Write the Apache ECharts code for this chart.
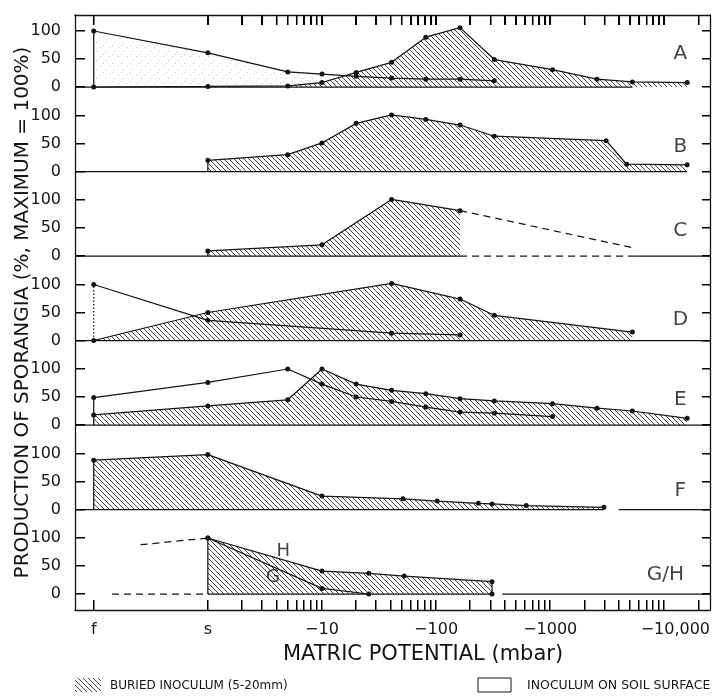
<!DOCTYPE html>
<html>
<head>
<meta charset="utf-8">
<script src="https://cdn.jsdelivr.net/npm/echarts@6/dist/echarts.min.js"></script>
<style>
  html, body { margin: 0; padding: 0; background: #fff; }
  #chart { width: 722px; height: 697px; }
</style>
</head>
<body>
<div id="chart"></div>
<script>
// x = log10 of suction (mbar); f (flooded) drawn at -1, s (saturated) at 0
const XMIN = -1.164, XMAX = 4.40;
const xTickLabels = ['f', 's', '\u221210', '\u2212100', '\u22121000', '\u221210,000'];
const yTickValues = [0, 50, 100];
const panelNames = ['A', 'B', 'C', 'D', 'E', 'F', 'G/H'];

// A
const aBuriedX = [-1, 0, 0.70, 1.00, 1.30, 1.61, 1.91, 2.21, 2.51, 3.02, 3.41, 3.72, 4.20];
const aBuriedY = [0, 1, 2, 8, 26, 44, 89, 106, 49, 31, 14, 9, 8];
const aSurfX = [-1, 0, 0.70, 1.00, 1.30, 1.61, 1.91, 2.21, 2.51];
const aSurfY = [100, 61, 27, 23, 19, 16, 14, 14, 11];
// B
const bBuriedX = [0, 0.70, 1.00, 1.30, 1.61, 1.91, 2.21, 2.51, 3.49, 3.67, 4.20];
const bBuriedY = [20, 30, 51, 86, 101, 93, 83, 63, 55, 13, 12];
// C
const cBuriedX = [0, 1.00, 1.61, 2.21];
const cBuriedY = [9, 20, 101, 81];
const cTrendX = [2.21, 3.72];
const cTrendY = [81, 15];
// D
const dBuriedX = [-1, 0, 1.61, 2.21, 2.51, 3.72];
const dBuriedY = [0, 50, 102, 74, 45, 15];
const dSurfX = [-1, 0, 1.61, 2.21];
const dSurfY = [100, 36, 13, 10];
// E
const eBuriedX = [-1, 0, 0.70, 1.00, 1.30, 1.61, 1.91, 2.21, 2.51, 3.02, 3.41, 3.72, 4.20];
const eBuriedY = [18, 34, 45, 100, 73, 62, 56, 47, 43, 38, 30, 25, 12];
const eSurfX = [-1, 0, 0.70, 1.00, 1.30, 1.61, 1.91, 2.21, 2.51, 3.02];
const eSurfY = [49, 76, 100, 73, 50, 42, 32, 23, 21, 15];
// F
const fBuriedX = [-1, 0, 1.00, 1.71, 2.01, 2.37, 2.49, 2.79, 3.47];
const fBuriedY = [88, 98, 24, 19, 15, 11, 10, 7, 4];
// G/H
const hX = [0, 1.00, 1.41, 1.72, 2.49];
const hY = [100, 41, 37, 32, 22];
const gX = [0, 1.00, 1.41];
const gY = [100, 10, 0];
const ghTrendX = [-0.59, 0];
const ghTrendY = [88, 100];

// zero lines of each panel: [from, to, style]
const zeroLines = [
  [[XMIN, 3.72, 'solid']],
  [[XMIN, 4.20, 'solid']],
  [[XMIN, 2.21, 'solid'], [2.21, 3.72, 'dashed'], [3.72, XMAX, 'solid']],
  [[XMIN, XMAX, 'solid']],
  [[XMIN, XMAX, 'solid']],
  [[XMIN, 3.47, 'solid'], [3.60, XMAX, 'solid']],
  [[-0.84, 0, 'dashed'], [0, 2.49, 'solid'], [2.58, XMAX, 'solid']]
];
// where the panel letters sit [x, value]
const letterPos = [[4.14, 60], [4.14, 45], [4.14, 45], [4.14, 37], [4.14, 45], [4.14, 34], [4.01, 34]];

const INK = '#141414';
const FONT = 'DejaVu Sans';
const W = 722, HT = 697;
const LEFT = 75, RIGHT = 12, TOP = 15, BOTTOM = 87;
const ZERO0 = 87, PITCH = 84.5, H100 = 56;
const PX0 = 2; // first panel x axis index

function pattern(size, draw) {
  const c = document.createElement('canvas');
  c.width = c.height = size;
  draw(c.getContext('2d'), size);
  return c;
}
const hatch = pattern(5, (g, n) => {
  g.strokeStyle = INK; g.lineWidth = 0.8; g.beginPath();
  for (let k = -1; k <= 1; k++) { g.moveTo(k * n, 0); g.lineTo(k * n + n, n); }
  g.stroke();
});
const stipple = pattern(9, (g) => {
  g.fillStyle = '#c8c8c8';
  g.fillRect(1, 2, 1, 1); g.fillRect(6, 6, 1, 1); g.fillRect(4, 0, 1, 1);
});

function curve(p, xs, ys, opt = {}) {
  const data = xs.map((x, i) => [x, ys[i]]);
  if (opt.edgeFrom != null) data.unshift({ value: [xs[0], opt.edgeFrom], symbol: 'none' });
  if (opt.closeRight) data.push([xs[xs.length - 1], 0]);
  return {
    type: 'line', xAxisIndex: PX0 + p, yAxisIndex: 2 + 2 * p, data, clip: false,
    symbol: opt.noSymbol ? 'none' : 'circle', symbolSize: 5,
    itemStyle: { color: INK },
    lineStyle: { color: INK, width: 1.25, type: opt.dashed ? [7, 5] : (opt.dotted ? [1.5, 2] : 'solid') },
    areaStyle: opt.fill ? { color: { image: opt.fill, repeat: 'repeat' }, opacity: 1, origin: 'start' } : undefined,
    z: opt.fill ? 2 : 3, silent: true
  };
}
function label(p, x, v, text, size) {
  return {
    type: 'scatter', xAxisIndex: PX0 + p, yAxisIndex: 2 + 2 * p, symbolSize: 0.1, silent: true,
    data: [[x, v]],
    label: { show: true, position: 'inside', formatter: text, color: INK, fontFamily: FONT, fontSize: size || 20 }
  };
}

// tick positions: f, s, then log ticks for each decade
const xTicks = [-1, 0];
for (let d = 0; d <= 4; d++) {
  for (let k = 2; k <= 10; k++) {
    const v = d + Math.log10(k);
    if (v < XMAX) xTicks.push(+v.toFixed(4));
  }
}
const xMajor = [-1, 0, 1, 2, 3, 4];

const series = [];
zeroLines.forEach((segs, p) => {
  segs.forEach(([a, b, st]) => {
    series.push(curve(p, [a, b], [0, 0], { noSymbol: true, dashed: st === 'dashed' }));
  });
  series.push(label(p, letterPos[p][0], letterPos[p][1], panelNames[p]));
});

series.push(curve(0, aSurfX, aSurfY, { edgeFrom: 0, fill: stipple }));
series.push(curve(0, aBuriedX, aBuriedY, { fill: hatch }));
series.push(curve(1, bBuriedX, bBuriedY, { edgeFrom: 0, fill: hatch }));
series.push(curve(2, cBuriedX, cBuriedY, { edgeFrom: 0, fill: hatch }));
series.push(curve(2, cTrendX, cTrendY, { dashed: true, noSymbol: true }));
series.push(curve(3, dBuriedX, dBuriedY, { fill: hatch }));
series.push(curve(3, [dSurfX[0], dSurfX[0]], [0, dSurfY[0]], { dotted: true, noSymbol: true }));
series.push(curve(3, dSurfX, dSurfY));
series.push(curve(4, eBuriedX, eBuriedY, { edgeFrom: 0, fill: hatch }));
series.push(curve(4, eSurfX, eSurfY, { edgeFrom: eBuriedY[0] }));
series.push(curve(5, fBuriedX, fBuriedY, { edgeFrom: 0, fill: hatch }));
series.push(curve(6, hX, hY, { edgeFrom: 0, closeRight: true, fill: hatch }));
series.push(curve(6, gX, gY));
series.push(curve(6, ghTrendX, ghTrendY, { dashed: true, noSymbol: true }));
series.push(label(6, 0.66, 76, 'H', 18));
series.push(label(6, 0.57, 30, 'G', 18));

const blackLine = () => ({ show: true, onZero: false, lineStyle: { color: INK, width: 1.3 } });

const grids = [{ left: LEFT, right: RIGHT, top: TOP, bottom: BOTTOM }];
const xAxes = [
  {
    gridIndex: 0, type: 'value', min: XMIN, max: XMAX, position: 'bottom',
    axisLine: blackLine(), axisTick: { show: false }, splitLine: { show: false },
    axisLabel: {
      show: true, customValues: xMajor, margin: 12, color: INK, fontFamily: FONT, fontSize: 16,
      formatter: (v) => {
        const i = xMajor.indexOf(Math.round(v));
        return i === xMajor.length - 1 ? '{r|' + xTickLabels[i] + '}' : xTickLabels[i];
      },
      rich: { r: { fontFamily: FONT, fontSize: 16, color: INK, padding: [0, 0, 0, 22] } }
    }
  },
  {
    gridIndex: 0, type: 'value', min: XMIN, max: XMAX, position: 'top',
    axisLine: blackLine(), splitLine: { show: false }, axisLabel: { show: false },
    axisTick: { show: true, inside: true, length: 10, customValues: xTicks, lineStyle: { color: INK, width: 1.1 } }
  }
];
const yAxes = [
  {
    gridIndex: 0, type: 'value', min: 0, max: 1, position: 'left', axisLine: blackLine(), axisTick: { show: false },
    axisLabel: { show: false }, splitLine: { show: false },
    name: 'PRODUCTION OF SPORANGIA (%, MAXIMUM = 100%)', nameLocation: 'middle', nameGap: 42,
    nameTextStyle: { color: INK, fontFamily: FONT, fontSize: 20 }
  },
  {
    gridIndex: 0, type: 'value', min: 0, max: 1, position: 'right', axisLine: blackLine(), axisTick: { show: false },
    axisLabel: { show: false }, splitLine: { show: false }
  }
];
panelNames.forEach((n, p) => {
  const zero = ZERO0 + p * PITCH;
  grids.push({ left: LEFT, right: RIGHT, top: zero - H100, height: H100 });
  xAxes.push({ gridIndex: p + 1, type: 'value', min: XMIN, max: XMAX, show: false });
  yAxes.push({
    gridIndex: p + 1, type: 'value', min: 0, max: 100, interval: 50, position: 'left',
    axisLine: { show: false, onZero: false }, axisTick: { show: false }, splitLine: { show: false },
    axisLabel: { show: true, margin: 14, color: INK, fontFamily: FONT, fontSize: 16 }
  });
  yAxes.push({
    gridIndex: p + 1, type: 'value', min: 0, max: 100, interval: 50, position: 'right',
    axisLine: { show: false, onZero: false }, axisTick: { show: false }, splitLine: { show: false },
    axisLabel: { show: false }
  });
});

const chart = echarts.init(document.getElementById('chart'), null, { renderer: 'canvas' });
chart.setOption({
  animation: false,
  backgroundColor: '#fff',
  grid: grids,
  xAxis: xAxes,
  yAxis: yAxes,
  series: series
});

// inward tick marks as pixel-aligned bars, placed with the axes' own pixel conversion
const plotW = W - LEFT - RIGHT;
function toPx(gridIndex, pt, fallback) {
  let c = null;
  try { c = chart.convertToPixel({ gridIndex }, pt); } catch (e) { c = null; }
  if (!c || !isFinite(c[0]) || !isFinite(c[1])) c = fallback;
  return [Math.round(c[0]), Math.round(c[1])];
}
const TK = '#000';
const tickEls = [];
xTicks.forEach((v) => {
  const fx = LEFT + (v - XMIN) / (XMAX - XMIN) * plotW;
  const b = toPx(0, [v, 0], [fx, HT - BOTTOM]);
  const t = toPx(0, [v, 1], [fx, TOP]);
  tickEls.push({ type: 'rect', silent: true, z: 50, shape: { x: b[0] - 1, y: b[1] - 10, width: 1.5, height: 10 }, style: { fill: TK } });
  tickEls.push({ type: 'rect', silent: true, z: 50, shape: { x: t[0] - 1, y: t[1], width: 1.5, height: 10 }, style: { fill: TK } });
});
panelNames.forEach((n, p) => {
  const zero = ZERO0 + p * PITCH;
  yTickValues.forEach((v) => {
    const fy = zero - v / 100 * H100;
    const l = toPx(p + 1, [XMIN, v], [LEFT, fy]);
    const r = toPx(p + 1, [XMAX, v], [W - RIGHT, fy]);
    tickEls.push({ type: 'rect', silent: true, z: 50, shape: { x: l[0], y: l[1] - 1, width: 10, height: 1.5 }, style: { fill: TK } });
    tickEls.push({ type: 'rect', silent: true, z: 50, shape: { x: r[0] - 8, y: r[1] - 1, width: 8, height: 1.5 }, style: { fill: TK } });
  });
});

chart.setOption({
  graphic: [
    { type: 'text', x: 423, y: 655, style: { text: 'MATRIC POTENTIAL (mbar)', fill: INK, font: '21px "DejaVu Sans"', align: 'center', verticalAlign: 'middle' } },
    { type: 'rect', shape: { x: 75, y: 678, width: 26, height: 14 }, style: { fill: { image: hatch, repeat: 'repeat' } } },
    { type: 'text', x: 110, y: 686, style: { text: 'BURIED INOCULUM (5-20mm)', fill: INK, font: '12px "DejaVu Sans"', verticalAlign: 'middle' } },
    { type: 'rect', shape: { x: 478, y: 678, width: 33, height: 14 }, style: { fill: '#fff', stroke: INK, lineWidth: 1 } },
    { type: 'text', x: 527, y: 686, style: { text: 'INOCULUM ON SOIL SURFACE', fill: INK, font: '12.5px "DejaVu Sans"', verticalAlign: 'middle' } }
  ].concat(tickEls)
});
</script>
</body>
</html>
